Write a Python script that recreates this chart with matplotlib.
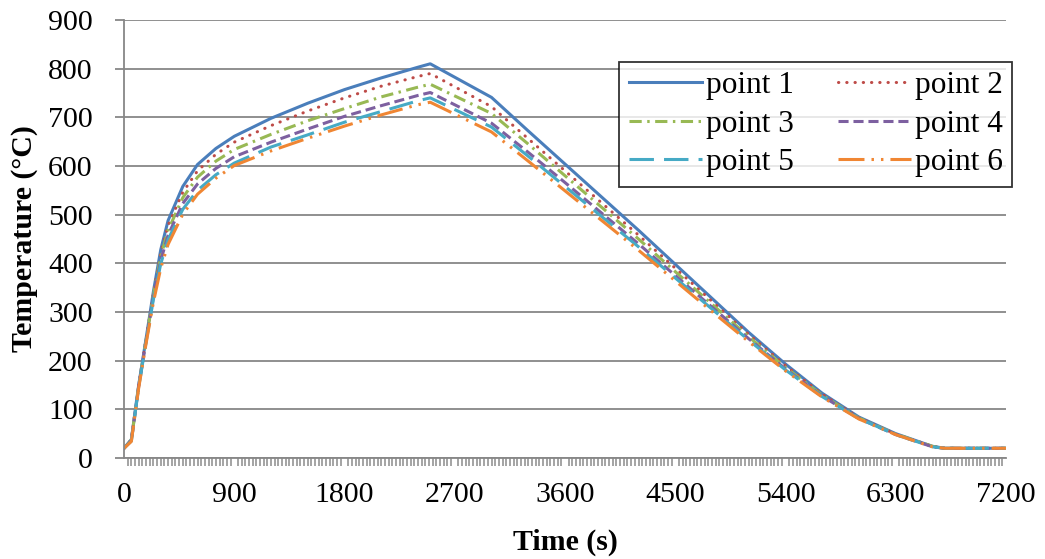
import matplotlib
matplotlib.use('Agg')
import matplotlib.pyplot as plt
import numpy as np

plt.rcParams['font.family'] = ['Liberation Serif', 'DejaVu Serif']

# time (s) and temperature (degC) for each measuring point
time = [0, 60, 120, 180, 240, 300, 360, 480, 600, 750, 900, 1200, 1500, 1800,
        2100, 2400, 2500, 3000, 3300, 3600, 3900, 4200, 4500, 4800, 5100,
        5400, 5700, 6000, 6300, 6600, 6700, 7200]

point1 = [20, 38, 150, 245, 342, 428, 488, 558, 603, 636, 661, 698, 729, 757,
          781, 803, 810, 741, 672, 604, 536, 468, 398, 328, 258,
          193, 133, 84, 50, 24, 20, 20]
point2 = [20, 38, 150, 244, 338, 421, 478, 546, 590, 624, 649, 683, 713, 740,
          764, 784, 790, 722, 656, 590, 524, 458, 390, 322, 254,
          190, 131, 83, 49, 24, 20, 20]
point3 = [20, 37, 148, 242, 334, 414, 468, 535, 577, 610, 634, 665, 693, 718,
          742, 762, 768, 708, 645, 580, 515, 450, 383, 316, 249,
          186, 129, 82, 49, 24, 20, 20]
point4 = [20, 36, 147, 240, 330, 406, 458, 523, 563, 595, 619, 649, 676, 702,
          724, 745, 751, 688, 628, 566, 503, 440, 375, 310, 245,
          183, 127, 81, 48, 23, 20, 20]
point5 = [20, 35, 146, 238, 326, 399, 449, 511, 550, 582, 606, 639, 664, 690,
          712, 734, 740, 680, 620, 558, 496, 434, 370, 306, 242,
          181, 126, 81, 48, 23, 20, 20]
point6 = [20, 34, 144, 235, 320, 390, 439, 501, 542, 575, 601, 631, 657, 682,
          705, 726, 731, 670, 610, 549, 488, 427, 364, 301, 239,
          179, 125, 80, 48, 23, 20, 20]

labels = ['point 1', 'point 2', 'point 3', 'point 4', 'point 5', 'point 6']
series = [point1, point2, point3, point4, point5, point6]
colors = ['#4A7EBB', '#BE4B48', '#98B954', '#7D60A0', '#46AAC5', '#F08633']
styles = ['-', (0, (0.1, 2.6)), (0, (4, 1.8, 0.8, 1.8)), (0, (3.3, 1.6)),
          (0, (8, 3.3)), (0, (8.5, 2.3, 0.8, 2.3, 0.8, 2.3))]

fig = plt.figure(figsize=(10.45, 5.59), dpi=100)
ax = fig.add_axes([124/1045, 1-458/559, 882/1045, 438/559])

lines = []
for i in range(6):
    cap = 'round' if i == 1 else 'butt'
    ln, = ax.plot(time, series[i], color=colors[i], linestyle=styles[i], lw=2.2,
                  dash_capstyle=cap, label=labels[i])
    lines.append(ln)

ax.set_xlim(0, 7200)
ax.set_ylim(0, 900)
ax.set_xticks(np.arange(0, 7201, 900))
ax.set_xticks(np.arange(0, 7201, 30), minor=True)
ax.set_yticks(np.arange(0, 901, 100))
ax.yaxis.grid(True, color='#878787', lw=1.3)
ax.set_axisbelow(True)

for s in ['top', 'right']:
    ax.spines[s].set_visible(False)
for s in ['left', 'bottom']:
    ax.spines[s].set_color('#878787')
    ax.spines[s].set_linewidth(1.3)

ax.tick_params(axis='y', direction='out', length=6.5, width=1.3, color='#878787',
               labelsize=21.5, pad=16)
ax.tick_params(axis='x', which='major', direction='out', length=0, labelsize=21.5, pad=17)
ax.tick_params(axis='x', which='minor', direction='out', length=6, width=1.1, color='#8c8c8c')

ax.set_xlabel('Time (s)', fontsize=21.5, fontweight='bold', labelpad=15)
ax.set_ylabel('Temperature (°C)', fontsize=21.5, fontweight='bold', labelpad=7)

# legend filled row by row like Excel
order = [0, 2, 4, 1, 3, 5]
leg = fig.legend([lines[k] for k in order], [labels[k] for k in order],
                 loc='upper right', bbox_to_anchor=(1012/1045, 1-62/559), ncol=2,
                 fontsize=22.5, frameon=True, fancybox=False, edgecolor='black',
                 handlelength=2.35, handletextpad=0.12, columnspacing=1.4,
                 labelspacing=0.3, borderpad=0.3, borderaxespad=0)
leg.get_frame().set_linewidth(1.3)

plt.savefig('out.png', dpi=100)
